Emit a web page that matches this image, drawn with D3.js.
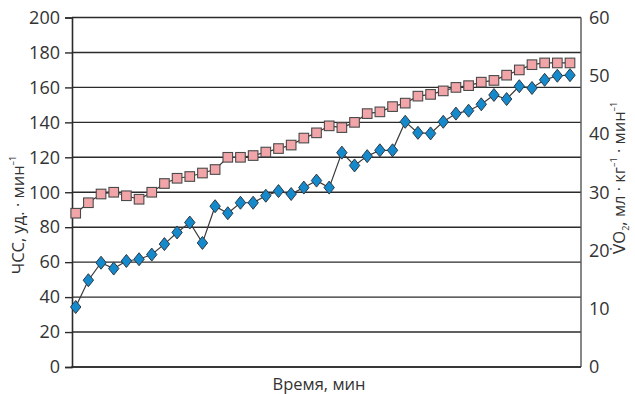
<!DOCTYPE html>
<html>
<head>
<meta charset="utf-8">
<script src="https://cdn.jsdelivr.net/npm/d3@7/dist/d3.min.js"></script>
<style>
  html, body { margin: 0; padding: 0; background: #ffffff; }
  svg { display: block; }
  text { font-family: "Open Sans", "Noto Sans", "DejaVu Sans", sans-serif; fill: #333333; }
</style>
</head>
<body>
<svg id="chart" width="635" height="394"></svg>
<script>
// Measurement steps along the test (one point per step)
const steps = d3.range(1, 41);

// Heart rate, beats per minute (left axis)
const heartRate = [88, 94, 99, 100, 98, 96, 100, 105, 108, 109,
                   111, 113, 120, 120, 121, 123, 125, 127, 131, 134,
                   138, 137, 140, 145, 146, 149, 151, 155, 156, 158,
                   160, 161, 163, 164, 167, 170, 173, 174, 174, 174];

// Oxygen uptake, ml/kg/min (right axis)
const vo2 = [10.3, 14.9, 17.9, 16.9, 18.2, 18.5, 19.3, 21.1, 23.1, 24.8,
             21.3, 27.6, 26.4, 28.2, 28.2, 29.4, 30.2, 29.7, 30.8, 32.0,
             30.8, 36.8, 34.6, 36.2, 37.2, 37.2, 42.1, 40.2, 40.1, 42.1,
             43.5, 44.0, 45.1, 46.7, 46.0, 48.2, 47.9, 49.3, 50.0, 50.1];

const leftTicks = [0, 20, 40, 60, 80, 100, 120, 140, 160, 180, 200];
const rightTicks = [0, 10, 20, 30, 40, 50, 60];

const svg = d3.select("#chart");

const plot = { left: 72, right: 581, top: 17.5, bottom: 367 };

// Points sit slightly inside the frame on both sides
const x = d3.scalePoint()
  .domain(steps)
  .range([75.7, 570]);

const yL = d3.scaleLinear().domain([0, 200]).range([plot.bottom, plot.top]);
const yR = d3.scaleLinear().domain([0, 60]).range([plot.bottom, plot.top]);

// Horizontal grid lines at the left-axis ticks
svg.append("g")
  .selectAll("line")
  .data(leftTicks)
  .join("line")
  .attr("x1", plot.left)
  .attr("x2", plot.right)
  .attr("y1", d => yL(d))
  .attr("y2", d => yL(d))
  .attr("stroke", "#2b2b2b")
  .attr("stroke-width", 1.4);

// Right frame line
svg.append("line")
  .attr("x1", plot.right).attr("x2", plot.right)
  .attr("y1", plot.top).attr("y2", plot.bottom)
  .attr("stroke", "#555555").attr("stroke-width", 1.4);

// Left axis
const leftAxis = svg.append("g")
  .attr("transform", `translate(${plot.left},0)`)
  .call(d3.axisLeft(yL).tickValues(leftTicks).tickSize(7).tickPadding(5));
leftAxis.select(".domain").attr("stroke", "#2b2b2b").attr("stroke-width", 1.6);
leftAxis.selectAll(".tick line").attr("stroke", "#2b2b2b").attr("stroke-width", 1.4);
leftAxis.selectAll(".tick text")
  .attr("font-size", 18)
  .attr("font-family", "'Open Sans', sans-serif")
  .attr("fill", "#333333");

// Right axis
const rightAxis = svg.append("g")
  .attr("transform", `translate(${plot.right},0)`)
  .call(d3.axisRight(yR).tickValues(rightTicks).tickSize(0).tickPadding(8));
rightAxis.select(".domain").remove();
rightAxis.selectAll(".tick text")
  .attr("font-size", 18)
  .attr("font-family", "'Open Sans', sans-serif")
  .attr("fill", "#333333");

// Bottom axis line
svg.append("line")
  .attr("x1", plot.left - 0.8).attr("x2", plot.right)
  .attr("y1", plot.bottom).attr("y2", plot.bottom)
  .attr("stroke", "#2b2b2b").attr("stroke-width", 1.6);

// Heart rate series
const hrLine = d3.line()
  .x((d, i) => x(steps[i]))
  .y(d => yL(d));

svg.append("path")
  .datum(heartRate)
  .attr("d", hrLine)
  .attr("fill", "none")
  .attr("stroke", "#3a3a3a")
  .attr("stroke-width", 1.2);

svg.append("g")
  .selectAll("rect")
  .data(heartRate)
  .join("rect")
  .attr("x", (d, i) => x(steps[i]) - 4.8)
  .attr("y", d => yL(d) - 4.8)
  .attr("width", 9.6)
  .attr("height", 9.6)
  .attr("fill", "#f2a5a8")
  .attr("stroke", "#4a4a4a")
  .attr("stroke-width", 1.1);

// Oxygen uptake series
const vo2Line = d3.line()
  .x((d, i) => x(steps[i]))
  .y(d => yR(d));

svg.append("path")
  .datum(vo2)
  .attr("d", vo2Line)
  .attr("fill", "none")
  .attr("stroke", "#3a3a3a")
  .attr("stroke-width", 1.2);

svg.append("g")
  .selectAll("path")
  .data(vo2)
  .join("path")
  .attr("transform", (d, i) => `translate(${x(steps[i])},${yR(d)})`)
  .attr("d", "M0,-6.5L5.2,0L0,6.5L-5.2,0Z")
  .attr("fill", "#1489cc")
  .attr("stroke", "#2d3a44")
  .attr("stroke-width", 1);

// Axis titles
const leftTitle = svg.append("text")
  .attr("transform", "translate(24,215) rotate(-90)")
  .attr("text-anchor", "middle")
  .attr("font-size", 16.5);
leftTitle.append("tspan").text("ЧСС, уд. · мин");
leftTitle.append("tspan").attr("font-size", 9).attr("dy", -8).text("–1");

const rightTitle = svg.append("text")
  .attr("transform", "translate(625,178) rotate(-90)")
  .attr("text-anchor", "middle")
  .attr("font-size", 16.5);
rightTitle.append("tspan")
  .attr("font-family", "'DejaVu Sans', sans-serif")
  .attr("font-size", 15.5)
  .text("V\u0307");
rightTitle.append("tspan").text("O");
rightTitle.append("tspan").attr("font-size", 9).attr("dy", 4).text("2");
rightTitle.append("tspan").attr("dy", -4).text(", мл · кг");
rightTitle.append("tspan").attr("font-size", 9).attr("dy", -8).text("–1");
rightTitle.append("tspan").attr("dy", 8).text(" · мин");
rightTitle.append("tspan").attr("font-size", 9).attr("dy", -8).text("–1");

svg.append("text")
  .attr("x", 319)
  .attr("y", 390)
  .attr("text-anchor", "middle")
  .attr("font-size", 16.5)
  .text("Время, мин");
</script>
</body>
</html>
